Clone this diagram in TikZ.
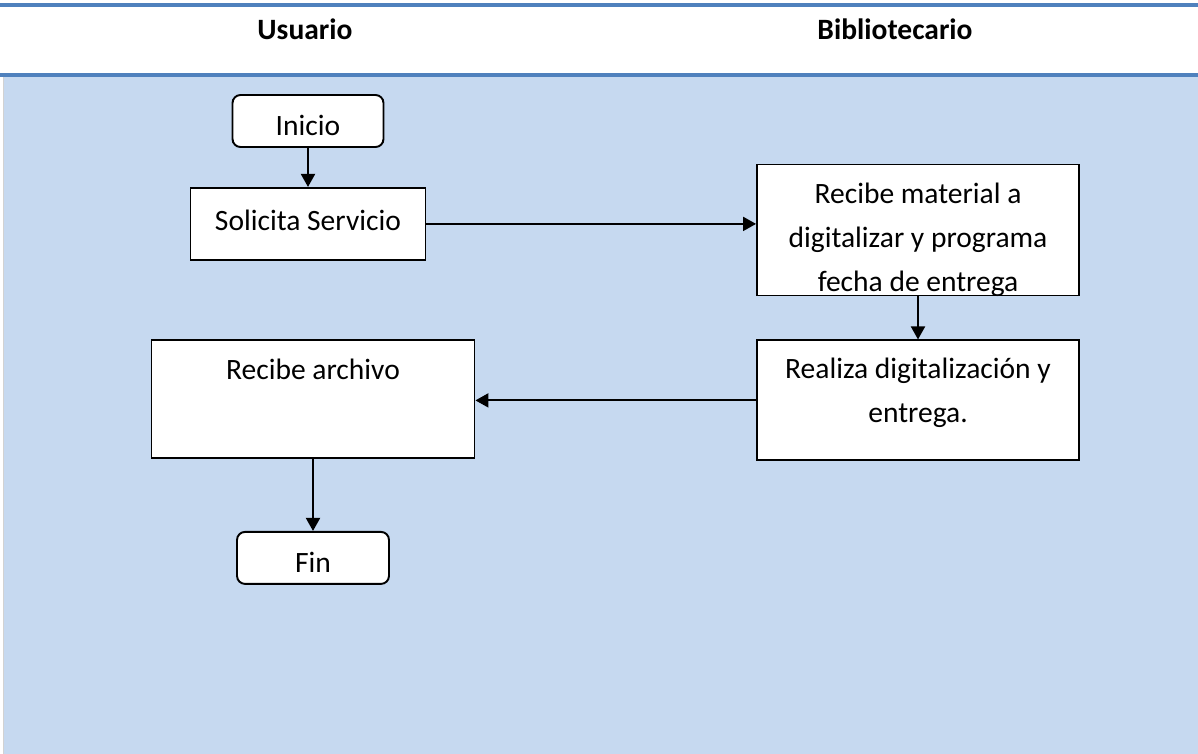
\documentclass[tikz,border=0pt]{standalone}
\usepackage{fontspec}
\setmainfont{Carlito}
\usetikzlibrary{positioning, arrows.meta}
\definecolor{laneblue}{HTML}{C6D9F0}
\definecolor{ruleblue}{HTML}{4F81BD}
\tikzset{
x=0.02cm, y=-0.02cm, % one unit is one pixel of the sheet
every node/.style={font=\fontsize{16.8}{25}\selectfont},
proc/.style={draw, line width=1.1pt, fill=white, inner sep=0pt, align=center}, % process boxes
term/.style={proc, rounded corners=0.16cm, minimum width=3.02cm, minimum height=1.04cm,
  text height=0.8cm, text depth=0.2cm}, % start and end
flow/.style={-{Triangle[length=0.26cm,width=0.28cm]}, line width=1.1pt},
lanerule/.style={ruleblue, line width=2.2pt},
}

\begin{document}
\begin{tikzpicture}
        \useasboundingbox (0,0) rectangle (1198,754);
        \fill[laneblue] (3,77) rectangle (1198,754);
        \draw[gray!35, line width=0.4pt] (3,77) -- (3,754);
        \draw[lanerule] (0,5) -- (1198,5);
        \draw[lanerule] (0,75) -- (1198,75);

        \node[font=\fontsize{16.8}{20}\selectfont\bfseries] (usuario) at (305,29) {Usuario};
        \node[font=\fontsize{16.8}{20}\selectfont\bfseries] (biblio) at (895,29) {Bibliotecario};

        \node[term] (inicio) at (308,121) {Inicio};
        \node[proc, below=0.78cm of inicio, minimum width=4.7cm, minimum height=1.44cm,
          text height=0.45cm, text depth=0.17cm] (solicita) {Solicita Servicio};
        \node[proc, minimum width=6.44cm, minimum height=2.62cm,
          text height=2.46cm, text depth=0cm] (recibemat) at (918,230)
          {Recibe material a\\digitalizar y programa\\fecha de entrega};
        \node[proc, below=0.86cm of recibemat, minimum width=6.44cm, minimum height=2.4cm,
          text height=0.88cm, text depth=0cm] (realiza)
          {Realiza digitalización y\\entrega.};
        \node[proc, minimum width=6.46cm, minimum height=2.36cm,
          text height=0.45cm, text depth=1.25cm] (recibearch) at (313,399) {Recibe archivo};
        \node[term, below=1.44cm of recibearch, minimum width=3.04cm] (fin) {Fin};

        \draw[flow] (inicio.south) -- (inicio.south |- solicita.north);
        \draw[flow] (solicita.east) -- (solicita.east -| recibemat.west);
        \draw[flow] (recibemat.south) -- (recibemat.south |- realiza.north);
        \draw[flow] (realiza.west) -- (realiza.west -| recibearch.east);
        \draw[flow] (recibearch.south) -- (recibearch.south |- fin.north);
      \end{tikzpicture}
\end{document}
